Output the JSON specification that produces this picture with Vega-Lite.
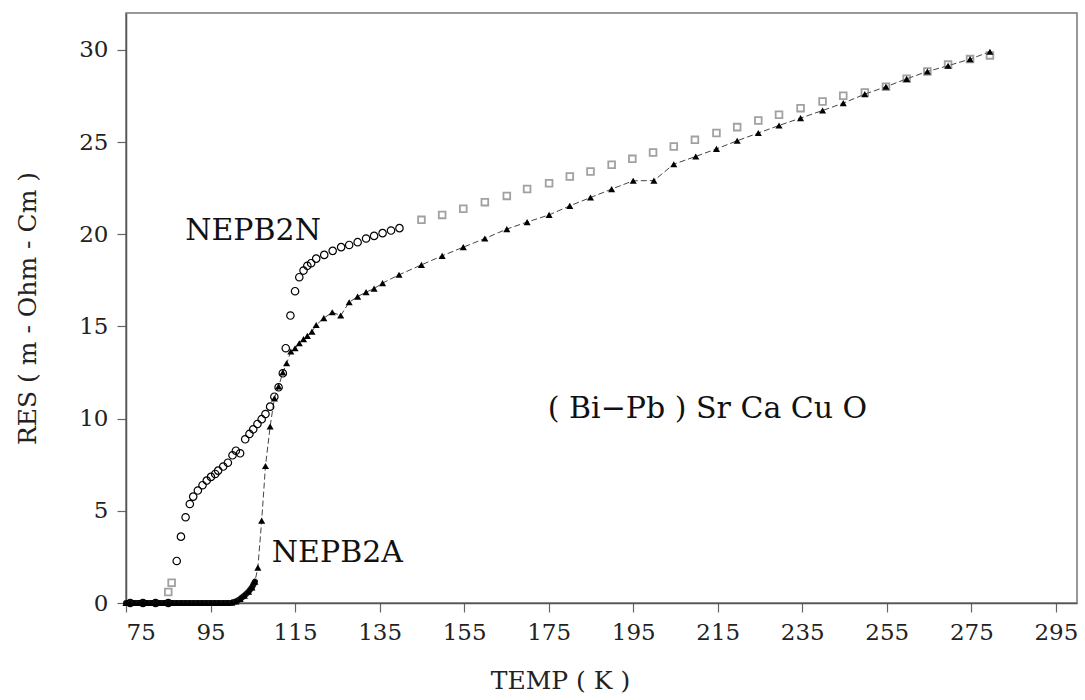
{
  "$schema": "https://vega.github.io/schema/vega-lite/v6.json",
  "autosize": {"type": "none"},
  "padding": {"left": 126, "top": 13, "right": 8, "bottom": 97},
  "width": 951,
  "height": 590,
  "background": "white",
  "config": {
    "view": {"stroke": "#777", "strokeWidth": 1.5},
    "font": "DejaVu Serif",
    "axis": {
      "labelFont": "DejaVu Serif",
      "titleFont": "DejaVu Serif",
      "labelFontSize": 23,
      "titleFontSize": 25,
      "titleFontWeight": "normal",
      "labelColor": "#222",
      "titleColor": "#222",
      "domainColor": "#555",
      "domainWidth": 1.5,
      "tickColor": "#666",
      "tickSize": 9,
      "tickWidth": 1.2,
      "labelPadding": 9,
      "grid": false
    }
  },
  "datasets": {
    "pts": [
      {"series": "NEPB2A", "T": 75, "R": 0}, {"series": "NEPB2A", "T": 76, "R": 0}, {"series": "NEPB2A", "T": 77, "R": 0},
      {"series": "NEPB2A", "T": 78, "R": 0}, {"series": "NEPB2A", "T": 79, "R": 0}, {"series": "NEPB2A", "T": 80, "R": 0},
      {"series": "NEPB2A", "T": 81, "R": 0}, {"series": "NEPB2A", "T": 82, "R": 0}, {"series": "NEPB2A", "T": 83, "R": 0},
      {"series": "NEPB2A", "T": 84, "R": 0}, {"series": "NEPB2A", "T": 85, "R": 0}, {"series": "NEPB2A", "T": 86, "R": 0},
      {"series": "NEPB2A", "T": 87, "R": 0}, {"series": "NEPB2A", "T": 88, "R": 0}, {"series": "NEPB2A", "T": 89, "R": 0},
      {"series": "NEPB2A", "T": 90, "R": 0}, {"series": "NEPB2A", "T": 91, "R": 0}, {"series": "NEPB2A", "T": 92, "R": 0},
      {"series": "NEPB2A", "T": 93, "R": 0}, {"series": "NEPB2A", "T": 94, "R": 0}, {"series": "NEPB2A", "T": 95, "R": 0},
      {"series": "NEPB2A", "T": 96, "R": 0}, {"series": "NEPB2A", "T": 97, "R": 0}, {"series": "NEPB2A", "T": 98, "R": 0},
      {"series": "NEPB2A", "T": 99, "R": 0}, {"series": "NEPB2A", "T": 100, "R": 0.02}, {"series": "NEPB2A", "T": 101, "R": 0.08},
      {"series": "NEPB2A", "T": 102, "R": 0.22}, {"series": "NEPB2A", "T": 103, "R": 0.4}, {"series": "NEPB2A", "T": 104, "R": 0.62},
      {"series": "NEPB2A", "T": 104.8, "R": 0.85}, {"series": "NEPB2A", "T": 105.5, "R": 1.16}, {"series": "NEPB2A", "T": 106.2, "R": 1.92},
      {"series": "NEPB2A", "T": 107.1, "R": 4.47}, {"series": "NEPB2A", "T": 108.0, "R": 7.43}, {"series": "NEPB2A", "T": 109.1, "R": 9.57},
      {"series": "NEPB2A", "T": 110.1, "R": 11.1}, {"series": "NEPB2A", "T": 111.1, "R": 11.74}, {"series": "NEPB2A", "T": 112.1, "R": 12.5},
      {"series": "NEPB2A", "T": 113.0, "R": 13.0}, {"series": "NEPB2A", "T": 114.0, "R": 13.64}, {"series": "NEPB2A", "T": 115.0, "R": 13.82},
      {"series": "NEPB2A", "T": 116.0, "R": 14.09}, {"series": "NEPB2A", "T": 117.0, "R": 14.31}, {"series": "NEPB2A", "T": 117.9, "R": 14.49},
      {"series": "NEPB2A", "T": 119.0, "R": 14.72}, {"series": "NEPB2A", "T": 120.0, "R": 15.08}, {"series": "NEPB2A", "T": 121.8, "R": 15.45},
      {"series": "NEPB2A", "T": 123.8, "R": 15.77}, {"series": "NEPB2A", "T": 125.8, "R": 15.59}, {"series": "NEPB2A", "T": 127.8, "R": 16.31},
      {"series": "NEPB2A", "T": 129.8, "R": 16.62}, {"series": "NEPB2A", "T": 131.8, "R": 16.86}, {"series": "NEPB2A", "T": 133.7, "R": 17.05},
      {"series": "NEPB2A", "T": 135.7, "R": 17.35}, {"series": "NEPB2A", "T": 139.6, "R": 17.8}, {"series": "NEPB2A", "T": 144.9, "R": 18.34},
      {"series": "NEPB2A", "T": 149.8, "R": 18.83}, {"series": "NEPB2A", "T": 154.8, "R": 19.3}, {"series": "NEPB2A", "T": 159.9, "R": 19.77},
      {"series": "NEPB2A", "T": 165.1, "R": 20.28}, {"series": "NEPB2A", "T": 169.9, "R": 20.66}, {"series": "NEPB2A", "T": 175.1, "R": 21.05},
      {"series": "NEPB2A", "T": 180.0, "R": 21.54}, {"series": "NEPB2A", "T": 184.9, "R": 21.99}, {"series": "NEPB2A", "T": 189.9, "R": 22.45},
      {"series": "NEPB2A", "T": 195.0, "R": 22.9}, {"series": "NEPB2A", "T": 199.9, "R": 22.91}, {"series": "NEPB2A", "T": 204.6, "R": 23.8},
      {"series": "NEPB2A", "T": 209.8, "R": 24.22}, {"series": "NEPB2A", "T": 214.7, "R": 24.63}, {"series": "NEPB2A", "T": 219.6, "R": 25.07},
      {"series": "NEPB2A", "T": 224.6, "R": 25.49}, {"series": "NEPB2A", "T": 229.5, "R": 25.9}, {"series": "NEPB2A", "T": 234.6, "R": 26.3},
      {"series": "NEPB2A", "T": 239.8, "R": 26.71}, {"series": "NEPB2A", "T": 244.7, "R": 27.11}, {"series": "NEPB2A", "T": 249.8, "R": 27.6},
      {"series": "NEPB2A", "T": 254.8, "R": 28.0}, {"series": "NEPB2A", "T": 259.7, "R": 28.43}, {"series": "NEPB2A", "T": 264.6, "R": 28.83},
      {"series": "NEPB2A", "T": 269.5, "R": 29.14}, {"series": "NEPB2A", "T": 274.7, "R": 29.5}, {"series": "NEPB2A", "T": 279.4, "R": 29.9},

      {"series": "NEPB2N", "T": 76, "R": 0}, {"series": "NEPB2N", "T": 79, "R": 0}, {"series": "NEPB2N", "T": 82, "R": 0},
      {"series": "NEPB2N", "T": 85, "R": 0}, {"series": "NEPB2N", "T": 87.0, "R": 2.28}, {"series": "NEPB2N", "T": 88.0, "R": 3.6},
      {"series": "NEPB2N", "T": 89.1, "R": 4.65}, {"series": "NEPB2N", "T": 90.1, "R": 5.37}, {"series": "NEPB2N", "T": 90.9, "R": 5.77},
      {"series": "NEPB2N", "T": 92.0, "R": 6.1}, {"series": "NEPB2N", "T": 93.1, "R": 6.39}, {"series": "NEPB2N", "T": 94.1, "R": 6.64},
      {"series": "NEPB2N", "T": 95.1, "R": 6.84}, {"series": "NEPB2N", "T": 96.1, "R": 7.0}, {"series": "NEPB2N", "T": 96.8, "R": 7.18},
      {"series": "NEPB2N", "T": 98.0, "R": 7.4}, {"series": "NEPB2N", "T": 99.1, "R": 7.61}, {"series": "NEPB2N", "T": 100.2, "R": 8.01},
      {"series": "NEPB2N", "T": 101.0, "R": 8.26}, {"series": "NEPB2N", "T": 102.0, "R": 8.12}, {"series": "NEPB2N", "T": 103.2, "R": 8.88},
      {"series": "NEPB2N", "T": 104.2, "R": 9.17}, {"series": "NEPB2N", "T": 105.1, "R": 9.42}, {"series": "NEPB2N", "T": 106.1, "R": 9.71},
      {"series": "NEPB2N", "T": 107.1, "R": 9.97}, {"series": "NEPB2N", "T": 108.0, "R": 10.25}, {"series": "NEPB2N", "T": 109.1, "R": 10.65},
      {"series": "NEPB2N", "T": 110.1, "R": 11.19}, {"series": "NEPB2N", "T": 111.1, "R": 11.7}, {"series": "NEPB2N", "T": 112.1, "R": 12.46},
      {"series": "NEPB2N", "T": 112.8, "R": 13.82}, {"series": "NEPB2N", "T": 113.9, "R": 15.59}, {"series": "NEPB2N", "T": 115.0, "R": 16.91},
      {"series": "NEPB2N", "T": 116.0, "R": 17.67}, {"series": "NEPB2N", "T": 117.0, "R": 18.03}, {"series": "NEPB2N", "T": 117.9, "R": 18.29},
      {"series": "NEPB2N", "T": 118.8, "R": 18.43}, {"series": "NEPB2N", "T": 120.0, "R": 18.68}, {"series": "NEPB2N", "T": 121.9, "R": 18.88},
      {"series": "NEPB2N", "T": 123.9, "R": 19.1}, {"series": "NEPB2N", "T": 125.9, "R": 19.3}, {"series": "NEPB2N", "T": 127.8, "R": 19.42},
      {"series": "NEPB2N", "T": 129.8, "R": 19.57}, {"series": "NEPB2N", "T": 131.8, "R": 19.77}, {"series": "NEPB2N", "T": 133.7, "R": 19.91},
      {"series": "NEPB2N", "T": 135.7, "R": 20.06}, {"series": "NEPB2N", "T": 137.7, "R": 20.2}, {"series": "NEPB2N", "T": 139.7, "R": 20.33},

      {"series": "NEPB2N high T", "T": 85.0, "R": 0.6}, {"series": "NEPB2N high T", "T": 85.8, "R": 1.1},
      {"series": "NEPB2N high T", "T": 144.9, "R": 20.78}, {"series": "NEPB2N high T", "T": 149.8, "R": 21.05},
      {"series": "NEPB2N high T", "T": 154.8, "R": 21.38}, {"series": "NEPB2N high T", "T": 159.9, "R": 21.74},
      {"series": "NEPB2N high T", "T": 165.1, "R": 22.08}, {"series": "NEPB2N high T", "T": 169.9, "R": 22.45},
      {"series": "NEPB2N high T", "T": 175.1, "R": 22.77}, {"series": "NEPB2N high T", "T": 180.0, "R": 23.13},
      {"series": "NEPB2N high T", "T": 184.9, "R": 23.4}, {"series": "NEPB2N high T", "T": 189.9, "R": 23.77},
      {"series": "NEPB2N high T", "T": 194.8, "R": 24.09}, {"series": "NEPB2N high T", "T": 199.7, "R": 24.43},
      {"series": "NEPB2N high T", "T": 204.6, "R": 24.76}, {"series": "NEPB2N high T", "T": 209.6, "R": 25.12},
      {"series": "NEPB2N high T", "T": 214.7, "R": 25.49}, {"series": "NEPB2N high T", "T": 219.6, "R": 25.81},
      {"series": "NEPB2N high T", "T": 224.6, "R": 26.17}, {"series": "NEPB2N high T", "T": 229.5, "R": 26.48},
      {"series": "NEPB2N high T", "T": 234.6, "R": 26.84}, {"series": "NEPB2N high T", "T": 239.8, "R": 27.2},
      {"series": "NEPB2N high T", "T": 244.7, "R": 27.51}, {"series": "NEPB2N high T", "T": 249.8, "R": 27.69},
      {"series": "NEPB2N high T", "T": 254.8, "R": 28.0}, {"series": "NEPB2N high T", "T": 259.7, "R": 28.43},
      {"series": "NEPB2N high T", "T": 264.6, "R": 28.83}, {"series": "NEPB2N high T", "T": 269.5, "R": 29.2},
      {"series": "NEPB2N high T", "T": 274.7, "R": 29.5}, {"series": "NEPB2N high T", "T": 279.4, "R": 29.7}
    ],
    "notes": [
      {"label": "NEPB2N", "T": 89.0, "R": 20.2},
      {"label": "NEPB2A", "T": 109.5, "R": 2.7},
      {"label": "( Bi−Pb ) Sr Ca Cu O", "T": 174.8, "R": 10.5}
    ]
  },
  "encoding": {
    "x": {"field": "T", "type": "quantitative", "scale": {"domain": [75, 300], "nice": false, "zero": false},
      "axis": {"values": [75, 95, 115, 135, 155, 175, 195, 215, 235, 255, 275, 295], "title": "TEMP ( K )", "titleX": 434, "titlePadding": 24}},
    "y": {"field": "R", "type": "quantitative", "scale": {"domain": [0, 32], "nice": false},
      "axis": {"values": [0, 5, 10, 15, 20, 25, 30], "title": "RES ( m - Ohm - Cm )", "titlePadding": 38}}
  },
  "layer": [
    {
      "data": {"name": "pts"},
      "transform": [{"filter": "datum.series === 'NEPB2A' && datum.T >= 100"}],
      "mark": {"type": "line", "color": "#444", "strokeWidth": 1, "strokeDash": [6, 3]}
    },
    {
      "data": {"name": "pts"},
      "transform": [{"filter": "datum.series === 'NEPB2A' && datum.T <= 105.5"}],
      "mark": {"type": "line", "color": "#111", "strokeWidth": 6, "strokeCap": "round"}
    },
    {
      "data": {"name": "pts"},
      "transform": [{"filter": "datum.series === 'NEPB2N high T'"}],
      "mark": {"type": "point", "shape": "square", "filled": false, "color": "#7a7a7a", "strokeWidth": 1.8, "size": 45}
    },
    {
      "data": {"name": "pts"},
      "transform": [{"filter": "datum.series === 'NEPB2A'"}],
      "mark": {"type": "point", "shape": "triangle-up", "filled": true, "color": "#000", "size": 50, "opacity": 1}
    },
    {
      "data": {"name": "pts"},
      "transform": [{"filter": "datum.series === 'NEPB2N'"}],
      "mark": {"type": "point", "shape": "circle", "filled": false, "color": "#000", "strokeWidth": 1.2, "size": 55, "opacity": 1}
    },
    {
      "data": {"name": "notes"},
      "mark": {"type": "text", "align": "left", "baseline": "middle", "font": "DejaVu Serif", "fontSize": 30, "color": "#111"},
      "encoding": {"text": {"field": "label"}}
    }
  ]
}
